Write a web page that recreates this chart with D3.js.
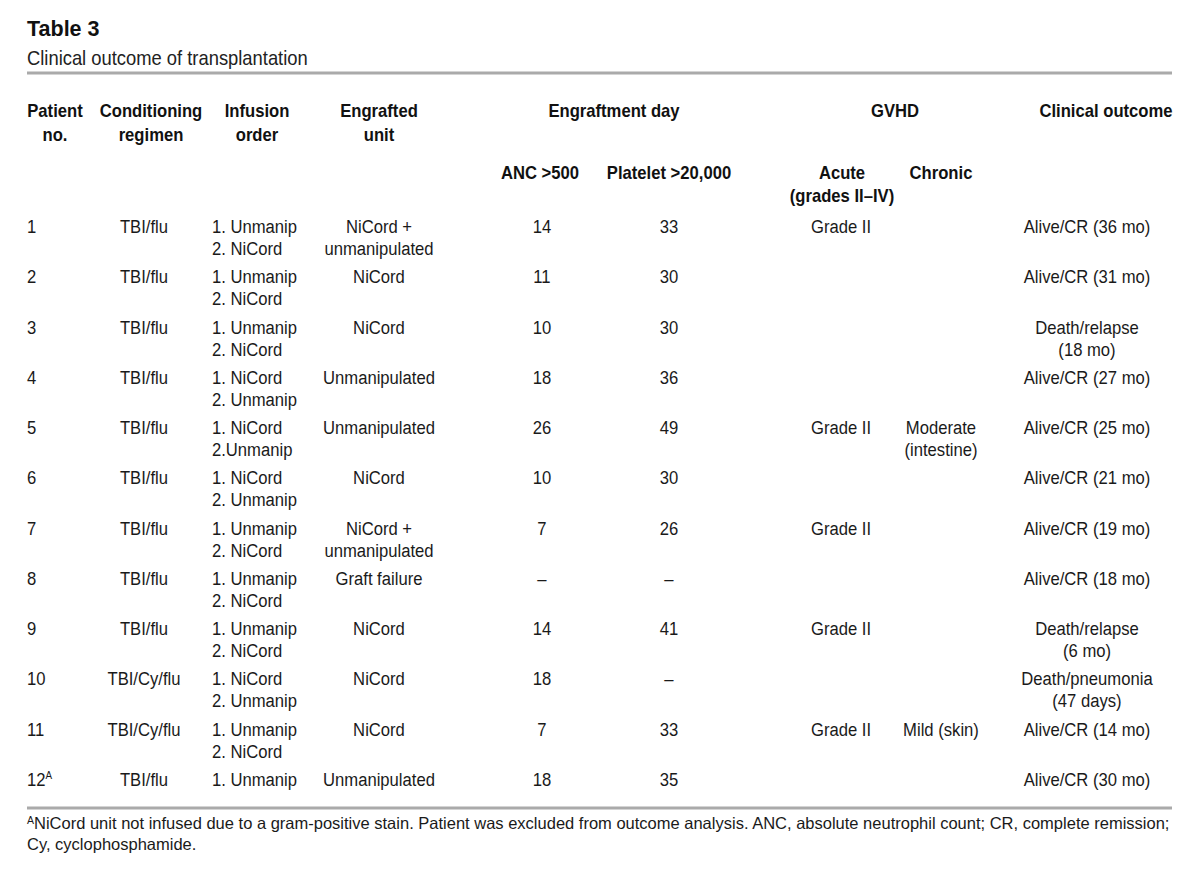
<!DOCTYPE html>
<html>
<head>
<meta charset="utf-8">
<title>Table 3</title>
<script src="https://cdn.jsdelivr.net/npm/d3@7"></script>
<style>
  body { margin: 0; background: #fff; }
  svg { display: block; }
  .title { font: bold 21.5px "Liberation Sans", Arial, sans-serif; fill: #111; }
  .subtitle { font: 21px "Liberation Sans", Arial, sans-serif; fill: #222; }
  .head { font: bold 18.5px "Liberation Sans", Arial, sans-serif; fill: #111; }
  .cell { font: 18.5px "Liberation Sans", Arial, sans-serif; fill: #1a1a1a; }
  .note { font: 16.5px "Liberation Sans", Arial, sans-serif; fill: #1a1a1a; }
  .rule { stroke: #aaa; stroke-width: 3; }
</style>
</head>
<body>
<svg width="1200" height="896"></svg>
<script>
// Data:
var patients = ["1", "2", "3", "4", "5", "6", "7", "8", "9", "10", "11", "12"];
var regimens = ["TBI/flu", "TBI/flu", "TBI/flu", "TBI/flu", "TBI/flu", "TBI/flu",
                "TBI/flu", "TBI/flu", "TBI/flu", "TBI/Cy/flu", "TBI/Cy/flu", "TBI/flu"];
var infusionOrders = [
  "1. Unmanip\n2. NiCord", "1. Unmanip\n2. NiCord", "1. Unmanip\n2. NiCord",
  "1. NiCord\n2. Unmanip", "1. NiCord\n2.Unmanip", "1. NiCord\n2. Unmanip",
  "1. Unmanip\n2. NiCord", "1. Unmanip\n2. NiCord", "1. Unmanip\n2. NiCord",
  "1. NiCord\n2. Unmanip", "1. Unmanip\n2. NiCord", "1. Unmanip"];
var engraftedUnits = ["NiCord +\nunmanipulated", "NiCord", "NiCord", "Unmanipulated",
  "Unmanipulated", "NiCord", "NiCord +\nunmanipulated", "Graft failure", "NiCord",
  "NiCord", "NiCord", "Unmanipulated"];
var ancDays = ["14", "11", "10", "18", "26", "10", "7", "\u2013", "14", "18", "7", "18"];
var plateletDays = ["33", "30", "30", "36", "49", "30", "26", "\u2013", "41", "\u2013", "33", "35"];
var acuteGvhd = ["Grade II", "", "", "", "Grade II", "", "Grade II", "", "Grade II", "", "Grade II", ""];
var chronicGvhd = ["", "", "", "", "Moderate\n(intestine)", "", "", "", "", "", "Mild (skin)", ""];
var outcomes = ["Alive/CR (36 mo)", "Alive/CR (31 mo)", "Death/relapse\n(18 mo)",
  "Alive/CR (27 mo)", "Alive/CR (25 mo)", "Alive/CR (21 mo)", "Alive/CR (19 mo)",
  "Alive/CR (18 mo)", "Death/relapse\n(6 mo)", "Death/pneumonia\n(47 days)",
  "Alive/CR (14 mo)", "Alive/CR (30 mo)"];
var footnoteMarks = ["", "", "", "", "", "", "", "", "", "", "", "A"];

var columns = ["patient", "regimen", "infusion", "unit", "anc", "platelet", "acute", "chronic", "outcome"];
var columnData = [patients, regimens, infusionOrders, engraftedUnits, ancDays, plateletDays, acuteGvhd, chronicGvhd, outcomes];
var headers = ["Patient\nno.", "Conditioning\nregimen", "Infusion\norder", "Engrafted\nunit", "", "", "", "", "Clinical outcome"];
var subHeaders = ["", "", "", "", "ANC >500", "Platelet >20,000", "Acute\n(grades II\u2013IV)", "Chronic", ""];
var groupHeaders = ["Engraftment day", "GVHD"];

var svg = d3.select("svg"),
    left = 27, right = 1172,
    sx = 0.9;   // squeeze to imitate the condensed face

// column anchor positions and alignment
var colX = d3.scaleOrdinal().domain(columns)
    .range([27, 144, 212, 379, 542, 669, 841, 941, 1087]);
var colAnchor = d3.scaleOrdinal().domain(columns)
    .range(["start", "middle", "start", "middle", "middle", "middle", "middle", "middle", "middle"]);
var headX = d3.scaleOrdinal().domain(columns)
    .range([55, 151, 257, 379, 540, 669, 842, 941, 1106]);
var groupX = d3.scaleOrdinal().domain(groupHeaders).range([614, 895]);

var rowY = d3.scaleLinear().domain([0, patients.length - 1]).range([233, 786]);
var lineH = 22;

// multi-line text helper (x is in page units, text is squeezed by sx)
function lines(sel, txt, x, lh, k) {
  k = k || sx;
  sel.attr("transform", "scale(" + k + ",1)");
  txt.split("\n").forEach(function(t, i) {
    sel.append("tspan").attr("x", x / k).attr("dy", i ? lh : 0).text(t);
  });
}

// Title
svg.append("text").attr("class", "title").attr("x", left).attr("y", 36).text("Table 3");
lines(svg.append("text").attr("class", "subtitle").attr("y", 65),
  "Clinical outcome of transplantation", left, 0, 0.875);
svg.append("line").attr("class", "rule").attr("x1", left).attr("x2", right).attr("y1", 73).attr("y2", 73);

// Headers
columns.forEach(function(c, i) {
  if (headers[i]) {
    lines(svg.append("text").attr("class", "head").attr("y", 117).attr("text-anchor", "middle"),
      headers[i], headX(c), 24);
  }
  if (subHeaders[i]) {
    lines(svg.append("text").attr("class", "head").attr("y", 179).attr("text-anchor", "middle"),
      subHeaders[i], headX(c), 23);
  }
});
groupHeaders.forEach(function(g) {
  lines(svg.append("text").attr("class", "head").attr("y", 117).attr("text-anchor", "middle"),
    g, groupX(g), 0);
});

// Body
columns.forEach(function(c, ci) {
  svg.append("g").selectAll("text")
    .data(columnData[ci])
    .join("text")
      .attr("class", "cell")
      .attr("text-anchor", colAnchor(c))
      .attr("y", function(d, i) { return rowY(i); })
      .each(function(d, i) {
        var t = d3.select(this);
        lines(t, d, colX(c), lineH);
        if (c === "patient" && footnoteMarks[i]) {
          t.append("tspan").attr("dy", -7).style("font-size", "11px").text(footnoteMarks[i]);
        }
      });
});

// Bottom rule and footnote
svg.append("line").attr("class", "rule").attr("x1", left).attr("x2", right).attr("y1", 808).attr("y2", 808);
var fn = svg.append("text").attr("class", "note").attr("x", left).attr("y", 829);
fn.append("tspan").attr("dy", -5).style("font-size", "10.5px").text("A");
fn.append("tspan").attr("dy", 5)
  .text("NiCord unit not infused due to a gram-positive stain. Patient was excluded from outcome analysis. ANC, absolute neutrophil count; CR, complete remission;");
svg.append("text").attr("class", "note").attr("x", left).attr("y", 850).text("Cy, cyclophosphamide.");
</script>
</body>
</html>
